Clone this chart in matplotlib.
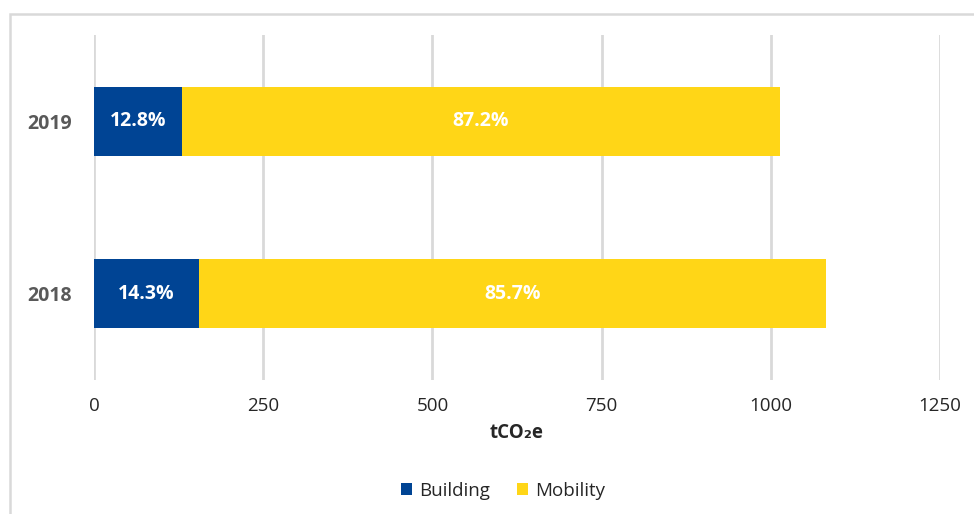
import matplotlib
matplotlib.use("Agg")
import matplotlib.pyplot as plt
from matplotlib.patches import Rectangle

years = ["2018", "2019"]
building = [155, 130]
mobility = [927, 883]
series_names = ["Building", "Mobility"]
x_ticks = [0, 250, 500, 750, 1000, 1250]

BLUE = "#004494"
YELLOW = "#FFD617"
GRID = "#d9d9d9"
FS = 13.5

plt.rcParams["font.family"] = ["Open Sans", "DejaVu Sans"]

fig = plt.figure(figsize=(9.74, 5.14), dpi=100)
ax = fig.add_axes([94 / 974, 1 - 380 / 514, (940 - 94) / 974, (380 - 35) / 514])

ypos = list(range(len(years)))
b1 = ax.barh(ypos, building, height=0.4, color=BLUE, label=series_names[0], zorder=3)
b2 = ax.barh(ypos, mobility, left=building, height=0.4, color=YELLOW,
             label=series_names[1], zorder=3)

for i in ypos:
    total = building[i] + mobility[i]
    ax.text(building[i] / 2, i, f"{building[i] / total * 100:.1f}%", ha="center",
            va="center", color="white", fontsize=FS + 0.5, fontweight="bold", zorder=4)
    ax.text(building[i] + mobility[i] / 2, i, f"{mobility[i] / total * 100:.1f}%",
            ha="center", va="center", color="white", fontsize=FS + 0.5,
            fontweight="bold", zorder=4)

ax.set_xlim(0, 1250)
ax.set_ylim(-0.5, 1.5)
ax.set_xticks(x_ticks)
ax.set_xticklabels([str(t) for t in x_ticks], fontsize=FS, color="#262626")
ax.set_yticks(ypos)
ax.set_yticklabels(years, fontsize=FS + 0.5, fontweight="bold", color="#595959")
ax.tick_params(axis="both", length=0)
ax.tick_params(axis="x", pad=12)
ax.tick_params(axis="y", pad=16)
ax.grid(axis="x", color=GRID, linewidth=2, zorder=0)
for s in ax.spines.values():
    s.set_visible(False)

ax.set_xlabel("tCO₂e", fontsize=FS, fontweight="bold", color="#262626", labelpad=6)

fig.legend(handles=[b1, b2], labels=series_names, loc="center",
           bbox_to_anchor=(503 / 974, 1 - 491 / 514), ncol=2, frameon=False,
           fontsize=FS, handlelength=0.6, handleheight=0.6, handletextpad=0.4,
           columnspacing=1.4, labelcolor="#262626")

fig.patches.append(Rectangle((9.5 / 974, -0.1), 1.2, 1 - 14 / 514 + 0.1,
                             transform=fig.transFigure, fill=False,
                             edgecolor=GRID, linewidth=1.8, zorder=0))

fig.savefig("out.png", dpi=100)
